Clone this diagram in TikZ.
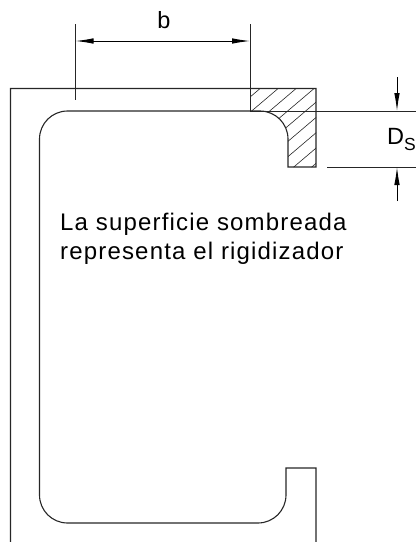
\documentclass[tikz,border=0pt]{standalone}
\usepackage{fontspec}
\setmainfont{Liberation Sans}
\usetikzlibrary{arrows.meta}
\tikzset{
  prof/.style={line width=1.1pt,draw=black!85},
  dimline/.style={line width=0.8pt,draw=black!85},
  hatchline/.style={line width=0.6pt,draw=black!85},
  dimarrow/.style={line width=0.9pt,{Latex[length=18pt,width=5.5pt]}-{Latex[length=18pt,width=5.5pt]}},
  onearrow/.style={line width=0.9pt,-{Latex[length=18pt,width=5.5pt]}},
  lab/.style={inner sep=0pt,font=\fontsize{23.5pt}{29pt}\selectfont,text=black},
  spaced/.style={inner sep=0pt,font=\fontsize{24pt}{29pt}\selectfont\addfontfeature{LetterSpace=4.9},text=black}
}
\begin{document}
\begin{tikzpicture}[x=1pt,y=-1pt]
\useasboundingbox (0,0) rectangle (417,542);
% hatching
\begin{scope}
\clip (250,88.5) -- (316,88.5) -- (316,167) -- (288,167) -- (288,139) arc[start angle=0,end angle=-90,radius=28] -- (250,111) -- cycle;
\foreach \c in {41,56.3,71.6,86.9,102.2,117.5,132.8,148.1,163.4}{
  \draw[hatchline] (326,\c-8.5) -- (240,\c+64.6);
}
\end{scope}
% profile
\draw[prof] (10.5,542) -- (10.5,88.5) -- (316,88.5) -- (316,167) -- (288,167) -- (288,139)
  arc[start angle=0,end angle=-90,radius=28] -- (67.5,111)
  arc[start angle=-90,end angle=-180,radius=28] -- (39.5,495)
  arc[start angle=180,end angle=90,radius=28] -- (258,523)
  arc[start angle=90,end angle=0,radius=28] -- (286,468) -- (316,468) -- (316,542);
% dimension b
\coordinate (bl) at (75.5,41);
\coordinate (br) at (250,41);
\draw[dimline] (75.5,24) -- (75.5,100);
\draw[dimline] (250,24) -- (250,111);
\draw[dimarrow] (bl) -- (br);
\node[lab,anchor=base] (blabel) at (164,28) {b};
% dimension Ds
\coordinate (dt) at (397,111);
\coordinate (db) at (397,167);
\coordinate (dta) at (397,77);
\coordinate (dba) at (397,201);
\draw[dimline] (250,111) -- (416,111);
\draw[dimline] (327,167) -- (416,167);
\draw[onearrow] (dta) -- (dt);
\draw[onearrow] (dba) -- (db);
\node[lab,anchor=base west] (ds) at (387,144) {D\raisebox{-6pt}{\fontsize{17.5pt}{18pt}\selectfont S}};
\node[spaced,anchor=base west] (t1) at (60,230.5) {La superficie sombreada};
\node[spaced,anchor=base west] (t2) at (60,259.5) {representa el rigidizador};
\end{tikzpicture}
\end{document}
